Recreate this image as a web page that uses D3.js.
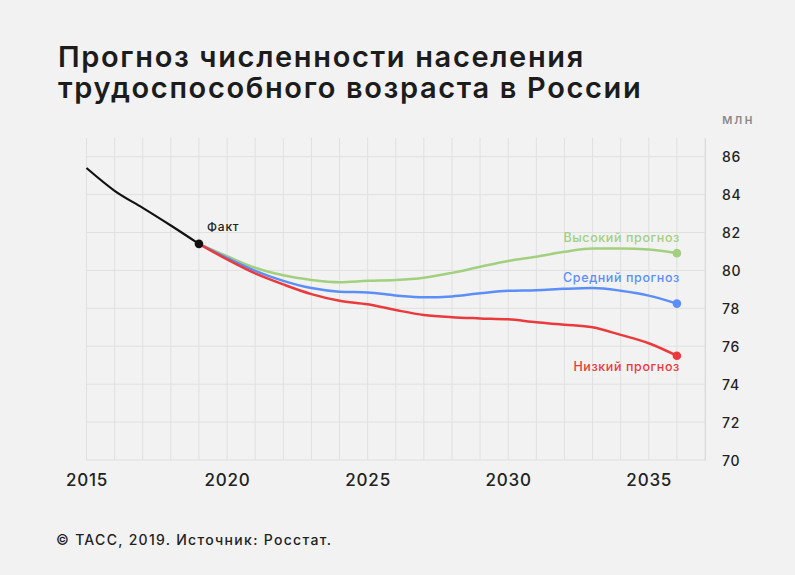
<!DOCTYPE html>
<html><head><meta charset="utf-8">
<script src="https://cdn.jsdelivr.net/npm/d3@7"></script>
<style>
html,body{margin:0;padding:0;background:#f2f2f2;}
svg{display:block;font-family:Inter,"Noto Sans",sans-serif;}
</style></head><body>
<svg id="c" width="795" height="575"></svg>
<script>
const factYears = [2015, 2016, 2017, 2018, 2019];
const factValues = [85.4, 84.2, 83.3, 82.37, 81.4];
const forecastYears = [2019,2020,2021,2022,2023,2024,2025,2026,2027,2028,2029,2030,2031,2032,2033,2034,2035,2036];
const highValues = [81.4,80.75,80.14,79.74,79.5,79.38,79.45,79.49,79.61,79.87,80.19,80.5,80.72,80.98,81.16,81.16,81.1,80.91];
const midValues  = [81.4,80.66,79.98,79.45,79.07,78.88,78.84,78.68,78.58,78.63,78.79,78.93,78.96,79.03,79.07,78.93,78.67,78.25];
const lowValues  = [81.4,80.58,79.84,79.26,78.75,78.4,78.21,77.91,77.65,77.53,77.47,77.42,77.26,77.14,77.0,76.6,76.16,75.5];
const xTicks = [2015, 2020, 2025, 2030, 2035];
const yTicks = [70, 72, 74, 76, 78, 80, 82, 84, 86];
const seriesNames = ["Высокий прогноз", "Средний прогноз", "Низкий прогноз"];
const titleLines = ["Прогноз численности населения", "трудоспособного возраста в России"];
const factLabel = "Факт";
const unitLabel = "млн";
const sourceText = "© ТАСС, 2019. Источник: Росстат.";

const svg = d3.select("#c");
svg.append("rect").attr("width",795).attr("height",575).attr("fill","#f2f2f2");

const x = d3.scaleLinear().domain([2015, 2037]).range([86.5, 705]);
const y = d3.scaleLinear().domain([70, 87]).range([460, 137.7]);

// grid
const g = svg.append("g");
g.selectAll("line.v").data(d3.range(2015, 2038)).join("line")
  .attr("x1", d=>x(d)).attr("x2", d=>x(d)).attr("y1", y(87)).attr("y2", y(70))
  .attr("stroke", "#e0e0e0").attr("stroke-width", 1);
g.selectAll("line.h").data(yTicks).join("line")
  .attr("x1", x(2015)).attr("x2", x(2037)).attr("y1", d=>y(d)).attr("y2", d=>y(d))
  .attr("stroke", "#e0e0e0").attr("stroke-width", 1);

// axes labels
const xAxis = d3.axisBottom(x).tickValues(xTicks).tickFormat(d3.format("d")).tickSize(0).tickPadding(0);
const xa = svg.append("g").attr("transform", `translate(0,${y(70)})`).call(xAxis);
xa.select(".domain").remove();
xa.selectAll("text").attr("dy", null).attr("y", 26).attr("font-size", 17).attr("font-weight", 500)
  .attr("fill", "#222").attr("font-family", "Inter").style("letter-spacing","0.8px");

const yAxis = d3.axisRight(y).tickValues(yTicks).tickSize(0).tickPadding(0);
const ya = svg.append("g").attr("transform", `translate(${x(2037)},0)`).call(yAxis);
ya.select(".domain").attr("stroke", "#dadada");
ya.selectAll("text").attr("x", 17).attr("dy", "0.36em").attr("font-size", 14).attr("font-weight", 500)
  .attr("fill", "#222").attr("font-family", "Inter").style("letter-spacing","0.7px");

svg.append("text").attr("x", 722).attr("y", 124).text(unitLabel)
  .attr("font-size", 13.5).attr("fill", "#8a8a8a").attr("font-weight", 500).style("letter-spacing","2px");

// lines
const line = d3.line().x(d=>x(d[0])).y(d=>y(d[1])).curve(d3.curveMonotoneX);
const colors = ["#a2d07f", "#5b8ff7", "#ea3a3c"];
const series = [highValues, midValues, lowValues];
series.forEach((vals, i) => {
  const pts = forecastYears.map((yr, j) => [yr, vals[j]]);
  svg.append("path").datum(pts).attr("d", line).attr("fill", "none")
    .attr("stroke", colors[i]).attr("stroke-width", 2.5);
});
svg.append("path").datum(factYears.map((yr,j)=>[yr, factValues[j]])).attr("d", line)
  .attr("fill","none").attr("stroke","#111").attr("stroke-width",2.2);

series.forEach((vals, i) => {
  const n = vals.length - 1;
  svg.append("circle").attr("cx", x(forecastYears[n])).attr("cy", y(vals[n])).attr("r", 4.3).attr("fill", colors[i]);
});
svg.append("circle").attr("cx", x(2019)).attr("cy", y(factValues[4])).attr("r", 4.3).attr("fill", "#111");

// labels
const labelY = [242, 282, 371];
seriesNames.forEach((nm, i) => {
  svg.append("text").attr("x", 680).attr("y", labelY[i]).attr("text-anchor", "end")
    .attr("font-size", 12.5).attr("font-weight", 500).attr("fill", colors[i]).style("letter-spacing","0.6px").text(nm);
});
svg.append("text").attr("x", 207).attr("y", 231).attr("font-size", 12).attr("font-weight", 500)
  .attr("fill", "#222").style("letter-spacing","0.8px").text(factLabel);

// title (one text element, two lines)
const title = svg.append("text").attr("x", 58).attr("y", 67).attr("font-size", 29).attr("font-weight", 600)
  .attr("fill", "#1c1c1c").style("letter-spacing","1.65px");
titleLines.forEach((t, i) => {
  title.append("tspan").attr("x", 58).attr("dy", i === 0 ? 0 : 30.5).text(t);
});

svg.append("text").attr("x", 56).attr("y", 545).attr("font-size", 14).attr("font-weight", 500)
  .attr("fill", "#222").style("letter-spacing","1.3px").text(sourceText);
</script></body></html>
